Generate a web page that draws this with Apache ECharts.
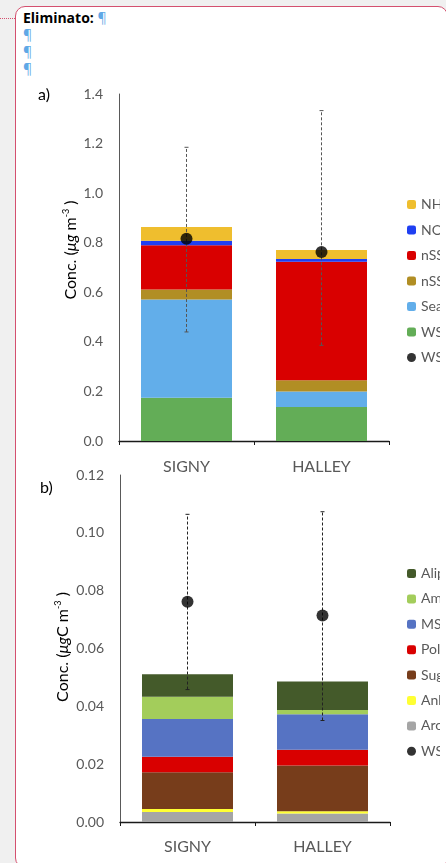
<!DOCTYPE html>
<html>
<head>
<meta charset="utf-8">
<script src="https://cdn.jsdelivr.net/npm/echarts@6/dist/echarts.min.js"></script>
<style>
  html, body { margin:0; padding:0; width:446px; height:863px; overflow:hidden; background:#f0f0f0; }
  #box { position:absolute; left:15px; top:6px; width:433px; height:862px; box-sizing:border-box;
         border:1.5px solid #d4506f; border-radius:10px; background:#fff; }
  #dots { position:absolute; left:0; top:18px; width:15px; border-top:1.5px dotted #d4506f; }
  #hdr { position:absolute; left:23px; top:9px; font-family:"Open Sans",sans-serif; font-size:14px; line-height:17px; color:#000; }
  #hdr b { font-weight:700; }
  .pil { color:#5fa8e6; font-weight:400; }
  #chart { position:absolute; left:0; top:0; width:440px; height:863px; }
</style>
</head>
<body>
<div id="dots"></div>
<div id="box"></div>
<div id="hdr"><b>Eliminato:</b> <span class="pil">¶</span><br><span class="pil">¶</span><br><span class="pil">¶</span><br><span class="pil">¶</span></div>
<div id="chart"></div>
<script>
// ---- data ----
const categories = ['SIGNY', 'HALLEY'];

// panel a (µg m-3), stacked bottom -> top
const aWsResid = [0.174, 0.137];
const aSeaSalt = [0.397, 0.063];
const aNssK    = [0.040, 0.045];
const aNssSO4  = [0.179, 0.478];
const aNO3     = [0.018, 0.011];
const aNH4     = [0.055, 0.037];
const aDot     = [0.816, 0.763];
const aErrLow  = [0.440, 0.386];
const aErrHigh = [1.185, 1.333];
const aTicks   = [0, 0.2, 0.4, 0.6, 0.8, 1.0, 1.2, 1.4];

// panel b (µgC m-3), stacked bottom -> top
const bAromatic = [0.0035, 0.0029];
const bAnhydro  = [0.0010, 0.0008];
const bSugars   = [0.0127, 0.0158];
const bPolyols  = [0.0054, 0.0055];
const bMSA      = [0.0130, 0.0123];
const bAmines   = [0.0077, 0.0014];
const bAlit     = [0.0078, 0.0099];
const bDot      = [0.0762, 0.0714];
const bErrLow   = [0.0458, 0.0351];
const bErrHigh  = [0.1064, 0.1073];
const bTicks    = [0, 0.02, 0.04, 0.06, 0.08, 0.10, 0.12];

const FONT = 'Lato';
const GREY = '#595959';

function barSeries(name, data, color, idx) {
  return { name, type:'bar', stack:'s'+idx, data, xAxisIndex:idx, yAxisIndex:idx,
           barWidth:91, itemStyle:{ color }, emphasis:{disabled:true} };
}
function errSeries(name, lo, hi, idx, col) {
  return {
    name, type:'custom', xAxisIndex:idx, yAxisIndex:idx, z:5,
    data: categories.map((c,i)=>[i, lo[i], hi[i]]),
    encode:{ x:0, y:[1,2] },
    renderItem(params, api) {
      const i = api.value(0);
      const p1 = api.coord([i, api.value(1)]);
      const p2 = api.coord([i, api.value(2)]);
      const st = { stroke:col, lineWidth:1 };
      return { type:'group', children:[
        { type:'line', shape:{x1:p1[0], y1:p1[1], x2:p2[0], y2:p2[1]}, style:{ stroke:col, lineWidth:1, lineDash:[3,2] } },
        { type:'line', shape:{x1:p1[0]-2, y1:p1[1], x2:p1[0]+2, y2:p1[1]}, style:st },
        { type:'line', shape:{x1:p2[0]-2, y1:p2[1], x2:p2[0]+2, y2:p2[1]}, style:st }
      ]};
    }
  };
}
function dotSeries(name, data, idx) {
  return { name, type:'scatter', data, xAxisIndex:idx, yAxisIndex:idx, z:10,
           symbol:'circle', symbolSize:12, itemStyle:{ color:'#000' } };
}

function yAxis(idx, ticks, dec) {
  return {
    type:'value', gridIndex:idx, min:ticks[0], max:ticks[ticks.length-1], interval:ticks[1]-ticks[0],
    splitLine:{show:false},
    axisLine:{show:true, lineStyle:{color:'#595959', width:1}},
    axisTick:{show:false},
    axisLabel:{ fontFamily:FONT, fontSize:14, color:GREY, margin:16, formatter:v=>v.toFixed(dec) }
  };
}
function xAxis(idx, margin) {
  return {
    type:'category', gridIndex:idx, data:categories,
    axisLine:{ lineStyle:{ color:'#1a1a1a', width:1.3 } },
    axisTick:{ show:true, length:4, lineStyle:{ color:'#1a1a1a' } },
    axisLabel:{ fontFamily:FONT, fontSize:16, color:GREY, margin }
  };
}
function yName(txt, x, y) {
  return {
    type:'text', x, y, rotation:Math.PI/2, z:20,
    style:{
      text:txt, align:'center', verticalAlign:'middle',
      rich:{
        a:{ fontFamily:FONT, fontSize:16, color:GREY, lineHeight:19 },
        i:{ fontFamily:FONT, fontSize:16, color:GREY, fontStyle:'italic', lineHeight:19 },
        s:{ fontFamily:FONT, fontSize:9, color:GREY, lineHeight:9, verticalAlign:'top' }
      }
    }
  };
}

const legendText = { fontFamily:FONT, fontSize:14, color:GREY, lineHeight:15 };

const option = {
  animation:false,
  grid:[
    { left:119, top:94, width:270, height:347 },
    { left:120, top:475, width:270, height:347 }
  ],
  xAxis:[ xAxis(0, 18), xAxis(1, 17) ],
  yAxis:[ yAxis(0, aTicks, 1), yAxis(1, bTicks, 2) ],
  legend:[
    { orient:'vertical', left:407, top:197, padding:0, itemWidth:9, itemHeight:9, itemGap:10.5,
      textStyle:legendText, selectedMode:false,
      data:['NH₄⁺','NO₃⁻','nSS-SO₄²⁻','nSS-K⁺','Sea salt','WS-resid',
            {name:'WSOM', icon:'circle'}] },
    { orient:'vertical', left:407, top:566, padding:0, itemWidth:9, itemHeight:9, itemGap:10.4,
      textStyle:legendText, selectedMode:false,
      data:['Aliphatic','Amines','MSA','Polyols','Sugars','Anhydrosugars','Aromatic',
            {name:'WSOC', icon:'circle'}] }
  ],
  graphic:[
    yName('{a|Conc. (}{i|μg}{a| m}{s|-3}{a| )}', 71, 250),
    yName('{a|Conc. (}{i|μg}{a|C m}{s|-3}{a| )}', 63, 647),
    { type:'text', x:38, y:87, style:{ text:'a)', fontFamily:FONT, fontSize:16, fill:'#000' } },
    { type:'text', x:40, y:480, style:{ text:'b)', fontFamily:FONT, fontSize:16, fill:'#000' } }
  ],
  series:[
    barSeries('WS-resid', aWsResid, '#63ad57', 0),
    barSeries('Sea salt', aSeaSalt, '#62aeea', 0),
    barSeries('nSS-K⁺', aNssK, '#b18e24', 0),
    barSeries('nSS-SO₄²⁻', aNssSO4, '#d90000', 0),
    barSeries('NO₃⁻', aNO3, '#1f3ff2', 0),
    barSeries('NH₄⁺', aNH4, '#efbe2e', 0),
    errSeries('errA', aErrLow, aErrHigh, 0, '#555555'),
    dotSeries('WSOM', aDot, 0),

    barSeries('Aromatic', bAromatic, '#a5a5a5', 1),
    barSeries('Anhydrosugars', bAnhydro, '#ffff33', 1),
    barSeries('Sugars', bSugars, '#773d1b', 1),
    barSeries('Polyols', bPolyols, '#d90000', 1),
    barSeries('MSA', bMSA, '#5673c3', 1),
    barSeries('Amines', bAmines, '#a3cd5b', 1),
    barSeries('Aliphatic', bAlit, '#445a2a', 1),
    errSeries('errB', bErrLow, bErrHigh, 1, '#222222'),
    dotSeries('WSOC', bDot, 1)
  ]
};

const chart = echarts.init(document.getElementById('chart'), null, { renderer:'canvas' });
chart.setOption(option);
</script>
</body>
</html>
